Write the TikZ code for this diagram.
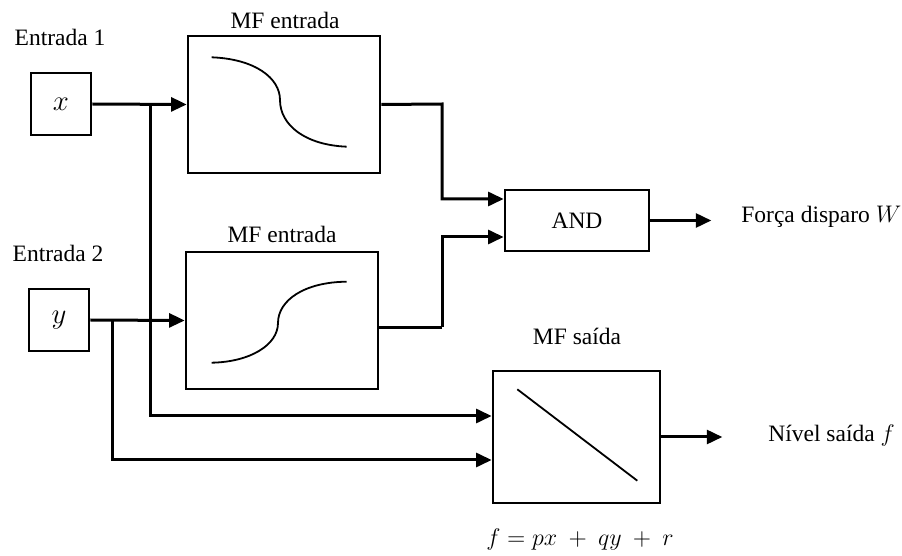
\documentclass[tikz,border=0pt]{standalone}
\usepackage{fontspec}
\setmainfont{Liberation Serif}
\usetikzlibrary{arrows.meta,calc}
\begin{document}
\begin{tikzpicture}[x=0.5pt,y=-0.5pt,
  every node/.style={font=\fontsize{11.75}{14}\selectfont, inner sep=0pt},
  blk/.style={draw, line width=1.35pt, minimum width=#1},
  conn/.style={line width=1.5pt},
  arr/.style={conn, -{Triangle[length=7.8pt,width=7pt]}},
  curv/.style={line width=0.9pt}]
\useasboundingbox (0,0) rectangle (902,556);

% boxes
\node[blk=30pt, minimum height=31pt, font=\fontsize{14}{16}\selectfont] (x) at (61,104) {$x$};
\node[blk=30pt, minimum height=31pt, font=\fontsize{14}{16}\selectfont] (y) at (59,320) {$y$};
\node[blk=96pt, minimum height=68.5pt] (mf1) at (284,104.5) {};
\node[blk=96pt, minimum height=68.5pt] (mf2) at (282,320.5) {};
\node[blk=72pt, minimum height=30.5pt] (and) at (577,220.5) {AND};
\node[blk=83.5pt, minimum height=66pt] (mfs) at (576.5,437) {};

% labels
\node (e1) at (60,37) {Entrada 1};
\node (e2) at (58,253) {Entrada 2};
\node (l1) at (285,20) {MF entrada};
\node (l2) at (282,234) {MF entrada};
\node (l3) at (577,336) {MF saída};
\node[anchor=west] (w) at (741,217) {Força disparo $W$};
\node[anchor=west] (f) at (768,436) {Nível saída $f$};
\node (eq) at (580,540) {$f = px\ +\ qy\ +\ r$};

% curves inside boxes
\draw[curv] (211.7,57.3) .. controls (255,59) and (280,78) .. (280,100)
  .. controls (280,125) and (305,145) .. (346.7,146.7);
\draw[curv] (211.7,362.7) .. controls (250,362) and (278,345) .. (278,323)
  .. controls (278,300) and (305,282) .. (346.7,281.7);
\draw[curv] (517.3,389.3) -- (637.3,480.7);

% branch points
\coordinate (bx) at (150,104);
\coordinate (by) at (112.7,320);
\coordinate (c1) at (442,104);
\coordinate (c2) at (442,327.5);

% connectors
\draw[arr] (x.east) -- (mf1.west);
\draw[arr] (y.east) -- (mf2.west);
\draw[arr] (mf1.east) -- (c1) |- ($(and.west)+(0,-21.5)$);
\draw[conn] (mf2.east |- c2) -- (c2);
\draw[arr] (c2) |- ($(and.west)+(0,16.5)$);
\draw[arr] (bx) |- ($(mfs.west)+(0,-21)$);
\draw[arr] (by) |- ($(mfs.west)+(0,23)$);
\draw[arr] (and.east) -- ++(61,0) coordinate (ao);
\draw[arr] (mfs.east) -- ++(61,0) coordinate (fo);
\end{tikzpicture}
\end{document}
